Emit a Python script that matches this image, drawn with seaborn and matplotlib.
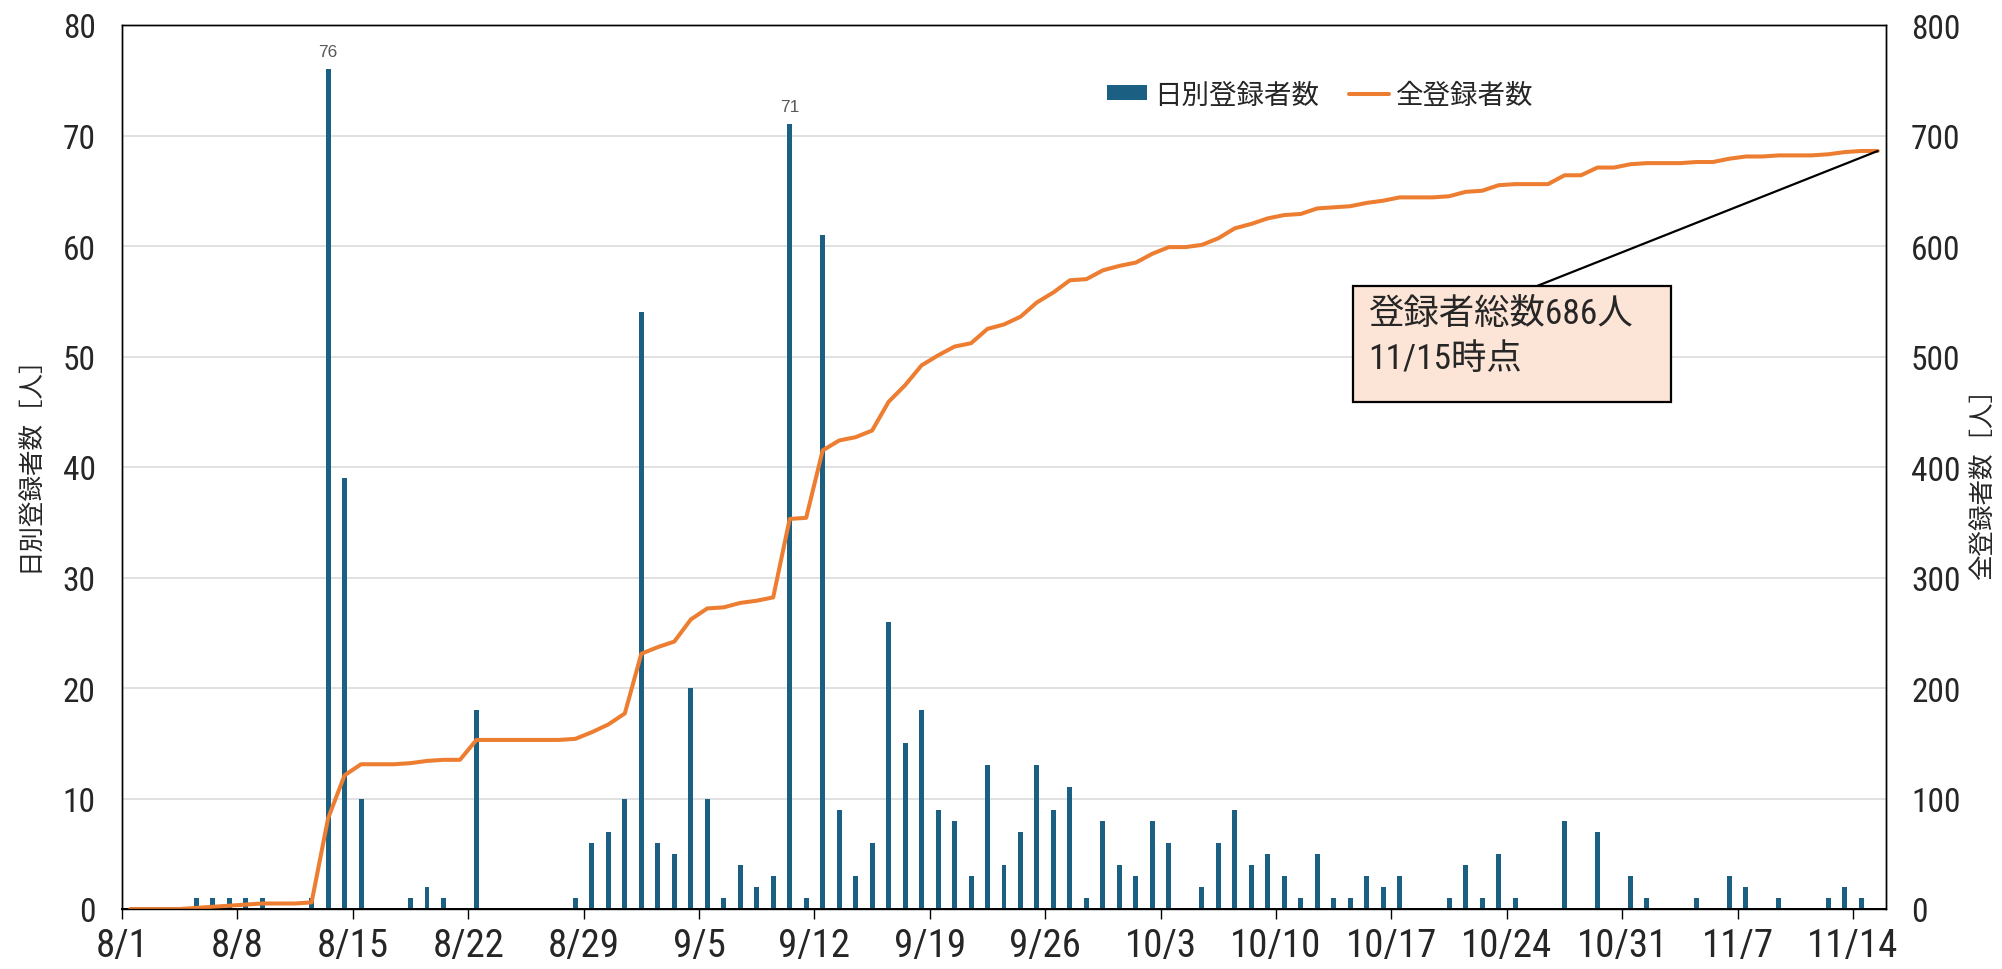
import numpy as np
import pandas as pd
import matplotlib
matplotlib.use("Agg")
import matplotlib.pyplot as plt
from matplotlib import font_manager as fm
import seaborn as sns

# ---- data -------------------------------------------------------------
# daily registrations, one value per day from 8/1 (index 0) to 11/15 (index 106)
daily = [0, 0, 0, 0, 1, 1, 1, 1, 1, 0,
         0, 1, 76, 39, 10, 0, 0, 1, 2, 1,
         0, 18, 0, 0, 0, 0, 0, 1, 6, 7,
         10, 54, 6, 5, 20, 10, 1, 4, 2, 3,
         71, 1, 61, 9, 3, 6, 26, 15, 18, 9,
         8, 3, 13, 4, 7, 13, 9, 11, 1, 8,
         4, 3, 8, 6, 0, 2, 6, 9, 4, 5,
         3, 1, 5, 1, 1, 3, 2, 3, 0, 0,
         1, 4, 1, 5, 1, 0, 0, 8, 0, 7,
         0, 3, 1, 0, 0, 1, 0, 3, 2, 0,
         1, 0, 0, 1, 2, 1, 0]
tick_days = [0, 7, 14, 21, 28, 35, 42, 49, 56, 63, 70, 77, 84, 91, 98, 105]
tick_labels = ["8/1", "8/8", "8/15", "8/22", "8/29", "9/5", "9/12", "9/19",
               "9/26", "10/3", "10/10", "10/17", "10/24", "10/31", "11/7", "11/14"]
peak_labels = [76, 71]
left_ticks = [0, 10, 20, 30, 40, 50, 60, 70, 80]
right_ticks = [0, 100, 200, 300, 400, 500, 600, 700, 800]
bar_name = "日別登録者数"
line_name = "全登録者数"
left_title = "日別登録者数［人］"
right_title = "全登録者数［人］"
note_text = "登録者総数686人\n11/15時点"

day_index = np.arange(len(daily))
df = pd.DataFrame({"pos": day_index + 0.5, "daily": daily})
df["total"] = df["daily"].cumsum()

# ---- style -------------------------------------------------------------
sns.set_style("white")

# pick a narrow Latin face if one is installed
entries = fm.fontManager.ttflist
names = {f.name for f in entries}
latin, stretch = None, "normal"
for cand in ["Liberation Sans Narrow", "Roboto Condensed", "Open Sans Condensed",
             "Noto Sans Condensed", "DejaVu Sans Condensed", "Arial Narrow"]:
    if cand in names:
        latin = cand
        break
if latin is None:
    for fam in ["DejaVu Sans", "Noto Sans", "Roboto", "Open Sans"]:
        if any(f.name == fam and f.stretch in ("condensed", "semi-condensed")
               for f in entries):
            latin, stretch = fam, "condensed"
            break
if latin is None:
    latin = "Noto Sans CJK JP"

FONT = [latin, "Noto Sans CJK JP", "DejaVu Sans"]
plt.rcParams["font.family"] = FONT
plt.rcParams["font.stretch"] = stretch
BAR = "#1B5F82"
LINE = "#ED7D31"
GRID = "#D9D9D9"

fig = plt.figure(figsize=(20.02, 9.70), dpi=100)
ax = fig.add_axes([122 / 2002, 60 / 970, 1764 / 2002, 884 / 970])
ax2 = ax.twinx()

sns.barplot(data=df, x="pos", y="daily", ax=ax, native_scale=True, orient="x",
            color=BAR, saturation=1, width=0.3, linewidth=0, errorbar=None,
            label=bar_name)
sns.lineplot(data=df, x="pos", y="total", ax=ax2, color=LINE, linewidth=2.9,
             solid_capstyle="round", solid_joinstyle="round", label=line_name)

ax.set_xlim(0, 107)
ax.set_ylim(0, 80)
ax2.set_ylim(0, 800)
ax.set_yticks(left_ticks)
ax2.set_yticks(right_ticks)
ax.set_xticks(tick_days)
ax.set_xticklabels(tick_labels)

ax.set_axisbelow(True)
ax.yaxis.grid(True, color=GRID, linewidth=1.1)
ax.xaxis.grid(False)
ax2.grid(False)

for a in (ax, ax2):
    for s in a.spines.values():
        s.set_visible(True)
        s.set_color("black")
        s.set_linewidth(1.0)
ax.spines["bottom"].set_linewidth(1.4)

ax.tick_params(axis="x", direction="out", length=7.2, width=1.0, pad=6,
               labelsize=28, bottom=True, color="black")
ax.tick_params(axis="y", length=0, pad=19, labelsize=24)
ax2.tick_params(axis="y", length=0, pad=18, labelsize=24)

ax.set_xlabel("")
ax.set_ylabel(left_title, fontsize=18.4)
ax2.set_ylabel(right_title, fontsize=18.4)
ax.yaxis.label.set(va="center", ha="center")
ax2.yaxis.label.set(va="center", ha="center")
ax.yaxis.set_label_coords((29 - 122) / 1764, (910 - 457) / 884)
ax2.yaxis.set_label_coords((1983 - 122) / 1764, (910 - 478) / 884)

# peak value labels
for v in peak_labels:
    i = daily.index(v)
    ax.annotate(str(v), xy=(df["pos"][i], v), xytext=(0, 10),
                textcoords="offset pixels", ha="center", va="bottom",
                fontsize=12.5, color="#595959", family="Liberation Sans",
                stretch="normal")

# legend
if ax.get_legend() is not None:
    ax.get_legend().remove()
if ax2.get_legend() is not None:
    ax2.get_legend().remove()
handles = [ax.patches[12], ax2.lines[0]]
leg = ax2.legend(handles, [bar_name, line_name], loc="center left",
                 bbox_to_anchor=(1107 / 2002, (970 - 96) / 970),
                 bbox_transform=fig.transFigure, ncol=2, frameon=False,
                 fontsize=19.8, handlelength=1.45, handleheight=0.47,
                 handletextpad=0.25, columnspacing=1.1, borderpad=0,
                 borderaxespad=0)

# callout box
box_x0 = (1353 - 122) / 1764
box_x1 = (1671 - 122) / 1764
box_y0 = (910 - 403) / 884
box_y1 = (910 - 287) / 884
rect = matplotlib.patches.Rectangle((box_x0, box_y0), box_x1 - box_x0, box_y1 - box_y0,
                                    transform=ax2.transAxes, facecolor="#FCE4D6",
                                    edgecolor="black", linewidth=1.6, zorder=5)
ax2.add_patch(rect)
ax2.text((1368 - 122) / 1764, (910 - 298) / 884, note_text, transform=ax2.transAxes,
         ha="left", va="top", fontsize=25.5, linespacing=1.45, zorder=6)
ax2.annotate("", xy=(df["pos"].iloc[-1], df["total"].iloc[-1]),
             xytext=((1537 - 122) / 1764, box_y1), textcoords="axes fraction",
             arrowprops=dict(arrowstyle="-", color="black", lw=1.6,
                             shrinkA=0, shrinkB=0), zorder=4)

fig.savefig("out.png", dpi=100)
